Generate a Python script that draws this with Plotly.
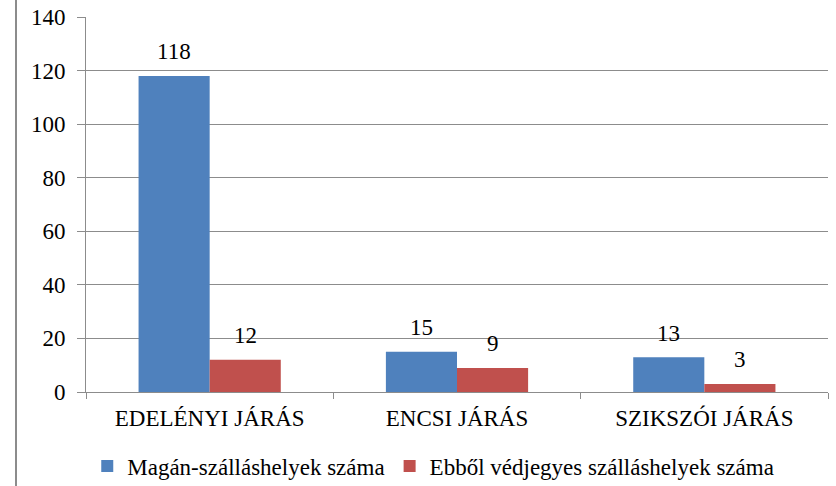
import plotly.graph_objects as go

categories = ["EDELÉNYI JÁRÁS", "ENCSI JÁRÁS", "SZIKSZÓI JÁRÁS"]
series_names = ["Magán-szálláshelyek száma", "Ebből védjegyes szálláshelyek száma"]
magan = [118, 15, 13]
vedjegyes = [12, 9, 3]
y_ticks = [0, 20, 40, 60, 80, 100, 120, 140]

FONT = "Liberation Serif"
colors = ["#4F81BD", "#C0504D"]

W, H = 836, 486
L, R, T, B = 86, 8, 17, 94
plot_w = W - L - R
plot_h = H - T - B

fig = go.Figure()
for name, vals, col in zip(series_names, [magan, vedjegyes], colors):
    fig.add_trace(go.Bar(
        x=categories, y=vals, name=name, marker_color=col,
        marker_line_width=0,
    ))

# data labels above the bars
cat_w = plot_w / len(categories)
bargap = 0.425
bar_w = cat_w * (1 - bargap) / 2
for i, vals in enumerate([magan, vedjegyes]):
    shift = (-0.5 + i) * bar_w
    for c, v in zip(categories, vals):
        fig.add_annotation(x=c, y=v, text=str(v), showarrow=False,
                           xshift=shift, yshift=24, yanchor="middle",
                           font=dict(family=FONT, size=23, color="black"))

fig.update_layout(
    width=W, height=H,
    margin=dict(l=L, r=R, t=T, b=B, autoexpand=False),
    paper_bgcolor="white", plot_bgcolor="white",
    barmode="group", bargap=bargap, bargroupgap=0,
    font=dict(family=FONT, size=23, color="black"),
    showlegend=True,
    legend=dict(orientation="h", x=0.468, xanchor="center", y=-74 / plot_h, yanchor="middle",
                font=dict(family=FONT, size=23, color="black"),
                itemwidth=30, tracegroupgap=0),
    xaxis=dict(type="category", showgrid=False, showline=True, linecolor="#8c8c8c", linewidth=1,
               ticks="outside", tickson="boundaries", ticklen=6, tickcolor="#8c8c8c",
               ticklabelstandoff=5,
               tickfont=dict(family=FONT, size=23, color="black")),
    yaxis=dict(range=[0, 140], tickvals=y_ticks, showgrid=True, gridcolor="#8c8c8c", gridwidth=1,
               showline=True, linecolor="#8c8c8c", linewidth=1,
               ticks="outside", ticklen=8, tickcolor="#8c8c8c", ticklabeloverflow="allow",
               ticklabelstandoff=7,
               tickfont=dict(family=FONT, size=23, color="black"), zeroline=False),
)

# left frame line
fig.add_shape(type="line", xref="paper", yref="paper", x0=-70 / plot_w, x1=-70 / plot_w,
              y0=-B / plot_h, y1=1 + T / plot_h,
              line=dict(color="#8c8c8c", width=2))

fig.write_html("out.html", config={"displayModeBar": False},
               post_script="document.body.style.margin='0';document.body.style.overflow='hidden';")
